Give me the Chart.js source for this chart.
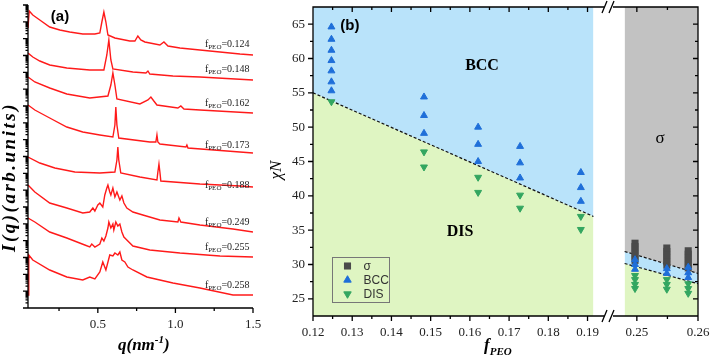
<!DOCTYPE html>
<html>
<head>
<meta charset="utf-8">
<title>SAXS profiles and phase diagram</title>
<script src="https://cdn.jsdelivr.net/npm/chart.js@4.4.1/dist/chart.umd.min.js"></script>
<style>
  html, body { margin: 0; padding: 0; background: #fff; overflow: hidden; }
  #wrap { position: relative; width: 710px; height: 359px; }
  #wrap canvas { position: absolute; top: 0; }
  #ca { left: 0; }
  #cb1 { left: 262px; }
  #cb2 { left: 600px; }
</style>
</head>
<body>
<div id="wrap">
  <canvas id="ca" width="265" height="359"></canvas>
  <canvas id="cb1" width="350" height="359"></canvas>
  <canvas id="cb2" width="110" height="359"></canvas>
</div>
<script>
// ---------- panel (a): SAXS profiles, intensity in arb. units (stacked) ----------
var fpeoLabels = ['0.124', '0.148', '0.162', '0.173', '0.188', '0.249', '0.255', '0.258'];

var q124 = [0.05, 0.058, 0.081, 0.126, 0.19, 0.255, 0.319, 0.403, 0.481, 0.513, 0.526, 0.539, 0.552, 0.565, 0.61, 0.706, 0.739, 0.758, 0.777, 0.803, 0.9, 0.926, 0.952, 1.029, 1.158, 1.287, 1.416, 1.5];
var i124 = [280, 297, 293, 288, 281, 278, 276, 274, 274, 275, 286, 296, 286, 273, 270, 267, 267, 272, 268, 266, 263, 266, 262, 260, 258, 256, 254, 253];
var q148 = [0.05, 0.081, 0.126, 0.19, 0.3, 0.448, 0.539, 0.558, 0.571, 0.584, 0.597, 0.726, 0.81, 0.823, 0.835, 0.984, 1.158, 1.5];
var i148 = [255, 251, 247, 243, 240, 238, 238, 253, 268, 248, 239, 236, 235, 237, 234, 232, 231, 228];
var q162 = [0.05, 0.094, 0.19, 0.3, 0.448, 0.565, 0.584, 0.597, 0.61, 0.623, 0.771, 0.823, 0.842, 0.861, 0.881, 1.016, 1.035, 1.055, 1.158, 1.5];
var i162 = [231, 226, 220, 214, 210, 212, 223, 235, 223, 209, 204, 208, 211, 207, 203, 200, 202, 199, 198, 195];
var q173 = [0.05, 0.094, 0.19, 0.3, 0.403, 0.513, 0.597, 0.61, 0.616, 0.623, 0.635, 0.835, 0.874, 0.881, 0.887, 0.9, 1.068, 1.074, 1.081, 1.5];
var i173 = [203, 198, 190, 181, 176, 173, 171, 183, 201, 183, 170, 166, 166, 173, 166, 164, 161, 163, 160, 155];
var q188 = [0.05, 0.126, 0.223, 0.352, 0.513, 0.61, 0.623, 0.629, 0.635, 0.648, 0.771, 0.881, 0.887, 0.894, 0.9, 0.906, 1.158, 1.416, 1.5];
var i188 = [151, 145, 140, 136, 135, 136, 148, 161, 148, 135, 131, 128, 136, 144, 136, 127, 124, 122, 121];
var q249 = [0.05, 0.094, 0.19, 0.3, 0.403, 0.448, 0.468, 0.481, 0.5, 0.513, 0.532, 0.545, 0.558, 0.565, 0.577, 0.584, 0.597, 0.61, 0.623, 0.642, 0.655, 0.668, 0.687, 0.726, 0.79, 0.9, 1.016, 1.023, 1.035, 1.158, 1.371, 1.5];
var i249 = [123, 116, 105, 100, 95, 96, 100, 97, 103, 105, 101, 113, 120, 123, 116, 113, 120, 111, 116, 108, 112, 105, 100, 96, 93, 88, 86, 90, 86, 83, 79, 76];
var q255 = [0.05, 0.094, 0.19, 0.3, 0.416, 0.448, 0.461, 0.481, 0.513, 0.526, 0.539, 0.552, 0.565, 0.571, 0.584, 0.597, 0.603, 0.616, 0.629, 0.642, 0.655, 0.668, 0.687, 0.726, 0.835, 1.029, 1.287, 1.5];
var i255 = [90, 86, 76, 70, 63, 61, 64, 61, 64, 70, 67, 72, 80, 86, 80, 84, 78, 86, 82, 84, 76, 71, 68, 62, 58, 55, 52, 51];
var q258 = [0.05, 0.055, 0.081, 0.19, 0.3, 0.403, 0.448, 0.481, 0.513, 0.532, 0.552, 0.577, 0.597, 0.61, 0.629, 0.642, 0.655, 0.674, 0.694, 0.726, 0.816, 0.984, 1.158, 1.371, 1.5];
var i258 = [13, 53, 48, 38, 31, 28, 31, 29, 36, 46, 38, 53, 52, 55, 53, 56, 48, 46, 41, 38, 31, 25, 20, 13, 13];

var curveQ = [q124, q148, q162, q173, q188, q249, q255, q258];
var curveI = [i124, i148, i162, i173, i188, i249, i255, i258];
var labelLevel = [264, 239, 205, 163, 123, 86, 61, 23];   // where each f_PEO label sits
var aTicksX = [0.5, 1.0, 1.5];

// ---------- panel (b): phase diagram chi*N vs f_PEO ----------
var bccF   = [0.1247, 0.1247, 0.1247, 0.1247, 0.1247, 0.1247, 0.1247, 0.1483, 0.1483, 0.1483, 0.1621, 0.1621, 0.1621, 0.1728, 0.1728, 0.1728, 0.1883, 0.1883, 0.1883, 0.2497, 0.2497, 0.2497, 0.2549, 0.2549, 0.2584, 0.2584, 0.2584];
var bccChi = [64.6, 62.8, 61.2, 59.7, 58.2, 56.6, 55.3, 54.4, 51.7, 49.1, 50.0, 47.5, 45.0, 47.2, 44.8, 42.6, 43.4, 41.2, 39.2, 30.7, 30.0, 29.3, 29.4, 28.7, 29.6, 28.8, 28.1];
var disF   = [0.1247, 0.1483, 0.1483, 0.1621, 0.1621, 0.1728, 0.1728, 0.1883, 0.1883, 0.2497, 0.2497, 0.2497, 0.2497, 0.2549, 0.2549, 0.2549, 0.2584, 0.2584, 0.2584];
var disChi = [53.7, 46.4, 44.2, 42.7, 40.5, 40.1, 38.2, 37.0, 35.1, 28.4, 27.8, 27.1, 26.5, 27.8, 27.1, 26.4, 27.2, 26.5, 25.8];
var sigmaF   = [0.2497, 0.2497, 0.2497, 0.2497, 0.2497, 0.2497, 0.2549, 0.2549, 0.2549, 0.2549, 0.2549, 0.2549, 0.2584, 0.2584, 0.2584, 0.2584, 0.2584, 0.2584];
var sigmaChi = [33.1, 32.6, 32.1, 31.6, 31.1, 30.6, 32.4, 31.9, 31.4, 30.9, 30.4, 29.9, 32.0, 31.5, 31.0, 30.5, 30.0, 29.5];

// phase boundaries
var odtF = [0.12, 0.1915];        var odtChi = [55, 37];
var sigUpF = [0.248, 0.26];       var sigUpChi = [31.9, 28.7];
var sigLoF = [0.248, 0.26];       var sigLoChi = [30.15, 27.2];

var bTicksX = [0.12, 0.13, 0.14, 0.15, 0.16, 0.17, 0.18, 0.19];
var bTicksX2 = [0.25, 0.26];
var bTicksY = [25, 30, 35, 40, 45, 50, 55, 60, 65];
var legendLabels = ['σ', 'BCC', 'DIS'];

var SERIF = '"Liberation Serif", "Times New Roman", serif';
var SANS = '"Liberation Sans", Arial, sans-serif';
var BLUE_BG = '#b9e3fa', GREEN_BG = '#dff5c2', GRAY_BG = '#c2c2c2';
var BCC_C = '#1f6fd9', DIS_C = '#33a660', SIG_C = '#4b4b4b';

function xy(xs, ys) { return xs.map(function (x, i) { return { x: x, y: ys[i] }; }); }
function fixBox(w, h) {
  return function (s) {
    if (w !== null) s.width = w;
    if (h !== null) s.height = h;
    s.paddingTop = s.paddingBottom = s.paddingLeft = s.paddingRight = 0;
  };
}
function setTicks(list) { return function (s) { s.ticks = list.map(function (v) { return { value: v }; }); }; }
function sub(ctx, x, y, parts) {
  // parts: [text, font, dy]
  parts.forEach(function (p) { ctx.font = p[1]; ctx.fillText(p[0], x, y + (p[2] || 0)); x += ctx.measureText(p[0]).width; });
}

// ---------------- panel (a) ----------------
var panelA = {
  id: 'panelA',
  afterDraw: function (chart) {
    var ctx = chart.ctx, a = chart.chartArea, xs = chart.scales.x, ys = chart.scales.y;
    ctx.save();
    ctx.strokeStyle = '#000'; ctx.lineWidth = 1.3;
    ctx.beginPath();
    ctx.moveTo(a.left, a.top); ctx.lineTo(a.left, a.bottom); ctx.lineTo(a.right, a.bottom);
    var dec = (a.bottom - a.top) / 18;
    for (var d = 0; d <= 18; d++) {
      var y0 = a.bottom - d * dec;
      ctx.moveTo(a.left, y0); ctx.lineTo(a.left - 5, y0);
      if (d < 18) for (var k = 2; k < 10; k++) {
        var yk = y0 - Math.log10(k) * dec;
        ctx.moveTo(a.left, yk); ctx.lineTo(a.left - 2.5, yk);
      }
    }
    for (var j = 1; j <= 6; j++) {
      var px = xs.getPixelForValue(j * 0.25);
      ctx.moveTo(px, a.bottom); ctx.lineTo(px, a.bottom + (j % 2 === 0 ? 5 : 3));
    }
    ctx.stroke();

    ctx.fillStyle = '#222'; ctx.textBaseline = 'middle'; ctx.textAlign = 'left';
    var lx = xs.getPixelForValue(1.19);
    fpeoLabels.forEach(function (t, i) {
      sub(ctx, lx, ys.getPixelForValue(labelLevel[i]), [['f', '10px ' + SERIF], ['PEO', '7px ' + SERIF, 3], ['=' + t, '10px ' + SERIF]]);
    });

    ctx.fillStyle = '#000';
    ctx.font = 'bold 15px ' + SANS; ctx.textAlign = 'center';
    ctx.fillText('(a)', 60, 17);

    ctx.textAlign = 'left'; ctx.textBaseline = 'alphabetic';
    sub(ctx, 118, 350, [['q(nm', 'bold italic 17px ' + SERIF], ['-1', 'bold italic 11px ' + SERIF, -7], [')', 'bold italic 17px ' + SERIF]]);

    ctx.translate(15, 177); ctx.rotate(-Math.PI / 2);
    ctx.font = 'bold italic 19px ' + SERIF; ctx.textAlign = 'center';
    ctx.letterSpacing = '2.5px';
    ctx.fillText('I(q)(arb.units)', 0, 0);
    ctx.restore();
  }
};

new Chart(document.getElementById('ca'), {
  type: 'line',
  data: {
    datasets: curveQ.map(function (qs, i) {
      return { data: xy(qs, curveI[i]), borderColor: '#ff1a1a', borderWidth: 1.4, pointRadius: 0, tension: 0, fill: false };
    })
  },
  options: {
    animation: false, responsive: false, events: [],
    layout: { padding: { left: 0, right: 12, top: 5, bottom: 0 } },
    plugins: { legend: { display: false }, tooltip: { enabled: false } },
    scales: {
      x: {
        type: 'linear', min: 0.05, max: 1.5,
        afterBuildTicks: setTicks(aTicksX), afterFit: fixBox(null, 51),
        grid: { display: false, drawTicks: false }, border: { display: false },
        ticks: { padding: 9, color: '#222', font: { family: SERIF, size: 13 }, callback: function (v) { return v.toFixed(1); } }
      },
      y: {
        type: 'linear', min: 0, max: 303, afterFit: fixBox(28, null),
        grid: { display: false, drawTicks: false }, border: { display: false }, ticks: { display: false }
      }
    }
  },
  plugins: [panelA]
});

// ---------------- panel (b), left part ----------------
function markerSets() {
  return [
    { data: xy(sigmaF, sigmaChi), showLine: false, pointStyle: 'rect', pointRadius: 5, pointBackgroundColor: SIG_C, pointBorderWidth: 0, order: 3 },
    { data: xy(bccF, bccChi), showLine: false, pointStyle: 'triangle', pointRadius: 4, pointBackgroundColor: BCC_C, pointBorderColor: BCC_C, pointBorderWidth: 1, order: 2 },
    { data: xy(disF, disChi), showLine: false, pointStyle: 'triangle', pointRotation: 180, pointRadius: 4, pointBackgroundColor: DIS_C, pointBorderColor: DIS_C, pointBorderWidth: 1, order: 1 }
  ];
}

function frameTicks(ctx, xs, ys, a, fFrom, fTo, yAt, yOut) {
  for (var f = fFrom; f <= fTo + 1e-9; f += 0.005) {
    var px = xs.getPixelForValue(f);
    var major = Math.abs(f * 100 - Math.round(f * 100)) < 1e-6;
    var L = major ? 5 : 3;
    ctx.moveTo(px, a.bottom); ctx.lineTo(px, a.bottom + L);
    ctx.moveTo(px, a.top); ctx.lineTo(px, a.top + L);
  }
  for (var v = 25; v <= 65; v += 2.5) {
    var py = ys.getPixelForValue(v), Ly = v % 5 === 0 ? 5 : 3;
    ctx.moveTo(yAt, py); ctx.lineTo(yAt + yOut * Ly, py);
  }
}

var panelB1 = {
  id: 'panelB1',
  afterDraw: function (chart) {
    var ctx = chart.ctx, a = chart.chartArea, xs = chart.scales.x, ys = chart.scales.y;
    ctx.save();
    ctx.strokeStyle = '#000'; ctx.lineWidth = 1.3;
    ctx.beginPath();
    ctx.moveTo(a.right, a.top); ctx.lineTo(a.left, a.top); ctx.lineTo(a.left, a.bottom); ctx.lineTo(a.right, a.bottom);
    frameTicks(ctx, xs, ys, a, 0.12, 0.19, a.left, -1);
    ctx.stroke();

    ctx.fillStyle = '#000'; ctx.textAlign = 'center'; ctx.textBaseline = 'middle';
    ctx.font = 'bold 15px ' + SANS;
    ctx.fillText('(b)', xs.getPixelForValue(0.1294), ys.getPixelForValue(64.7));
    ctx.font = 'bold 16px ' + SERIF;
    ctx.fillText('BCC', xs.getPixelForValue(0.1631), ys.getPixelForValue(59.0));
    ctx.fillText('DIS', xs.getPixelForValue(0.1575), ys.getPixelForValue(34.8));

    // legend
    var lx = 70.5, ly = 257.5;
    ctx.strokeStyle = '#777'; ctx.lineWidth = 1;
    ctx.strokeRect(lx, ly, 57, 45);
    var styles = [
      { pointStyle: 'rect', rotation: 0, radius: 5, borderWidth: 0, c: SIG_C },
      { pointStyle: 'triangle', rotation: 0, radius: 4.3, borderWidth: 1, c: BCC_C },
      { pointStyle: 'triangle', rotation: 180, radius: 4.3, borderWidth: 1, c: DIS_C }
    ];
    ctx.font = '12px ' + SANS; ctx.textAlign = 'left';
    legendLabels.forEach(function (t, i) {
      var y = 266 + i * 14;
      ctx.fillStyle = styles[i].c; ctx.strokeStyle = styles[i].c;
      Chart.helpers.drawPoint(ctx, styles[i], lx + 15, y);
      ctx.fillStyle = '#333';
      ctx.fillText(t, lx + 31, y + 1);
    });

    // axis titles
    ctx.fillStyle = '#000'; ctx.textBaseline = 'alphabetic';
    sub(ctx, 222, 350, [['f', 'bold italic 17px ' + SERIF], ['PEO', 'bold italic 11px ' + SERIF, 5]]);
    ctx.translate(19, 170); ctx.rotate(-Math.PI / 2);
    ctx.font = 'italic 17px ' + SERIF; ctx.textAlign = 'center';
    ctx.fillText('χN', 0, 0);
    ctx.restore();
  }
};

new Chart(document.getElementById('cb1'), {
  type: 'line',
  data: {
    datasets: [
      { data: xy(odtF, odtChi), borderColor: '#111', borderWidth: 1.2, borderDash: [3, 2], pointRadius: 0, fill: 'end', backgroundColor: BLUE_BG, order: 10 },
      { data: xy(odtF, odtChi), borderWidth: 0, pointRadius: 0, fill: 'start', backgroundColor: GREEN_BG, order: 11 }
    ].concat(markerSets())
  },
  options: {
    animation: false, responsive: false, events: [],
    layout: { padding: { left: 0, right: 8, top: 7, bottom: 0 } },
    plugins: { legend: { display: false }, tooltip: { enabled: false } },
    scales: {
      x: {
        type: 'linear', min: 0.12, max: 0.1942,
        afterBuildTicks: setTicks(bTicksX), afterFit: fixBox(null, 43),
        grid: { display: false, drawTicks: false }, border: { display: false },
        ticks: { padding: 9, color: '#222', font: { family: SERIF, size: 13 }, callback: function (v) { return v.toFixed(2); } }
      },
      y: {
        type: 'linear', min: 22.5, max: 67.5,
        afterBuildTicks: setTicks(bTicksY), afterFit: fixBox(51, null),
        grid: { display: false, drawTicks: false }, border: { display: false },
        ticks: { padding: 8, color: '#222', font: { family: SERIF, size: 13 } }
      }
    }
  },
  plugins: [panelB1]
});

// ---------------- panel (b), right part after the axis break ----------------
var panelB2 = {
  id: 'panelB2',
  afterDraw: function (chart) {
    var ctx = chart.ctx, a = chart.chartArea, xs = chart.scales.x, ys = chart.scales.y;
    ctx.save();
    ctx.strokeStyle = '#000'; ctx.lineWidth = 1.3;
    ctx.beginPath();
    ctx.moveTo(a.left, a.top); ctx.lineTo(a.right, a.top); ctx.lineTo(a.right, a.bottom); ctx.lineTo(a.left, a.bottom);
    frameTicks(ctx, xs, ys, a, 0.25, 0.26, a.right, -1);
    // axis break marks
    [a.top, a.bottom].forEach(function (y) {
      ctx.moveTo(2, y + 6); ctx.lineTo(7, y - 6);
      ctx.moveTo(9, y + 6); ctx.lineTo(14, y - 6);
    });
    ctx.stroke();

    ctx.fillStyle = '#000'; ctx.textAlign = 'center'; ctx.textBaseline = 'middle';
    ctx.font = '17px ' + SERIF;
    ctx.fillText('σ', xs.getPixelForValue(0.2538), ys.getPixelForValue(48.4));
    ctx.restore();
  }
};

new Chart(document.getElementById('cb2'), {
  type: 'line',
  data: {
    datasets: [
      { data: xy(sigUpF, sigUpChi), borderColor: '#111', borderWidth: 1.2, borderDash: [3, 2], pointRadius: 0, fill: 'end', backgroundColor: GRAY_BG, order: 10 },
      { data: xy(sigLoF, sigLoChi), borderColor: '#111', borderWidth: 1.2, borderDash: [3, 2], pointRadius: 0, fill: 0, backgroundColor: BLUE_BG, order: 11 },
      { data: xy(sigLoF, sigLoChi), borderWidth: 0, pointRadius: 0, fill: 'start', backgroundColor: GREEN_BG, order: 12 }
    ].concat(markerSets())
  },
  options: {
    animation: false, responsive: false, events: [],
    layout: { padding: { left: 13, right: 12, top: 7, bottom: 0 } },
    plugins: { legend: { display: false }, tooltip: { enabled: false } },
    scales: {
      x: {
        type: 'linear', min: 0.2461, max: 0.26,
        afterBuildTicks: setTicks(bTicksX2), afterFit: fixBox(null, 43),
        grid: { display: false, drawTicks: false }, border: { display: false },
        ticks: { padding: 9, color: '#222', font: { family: SERIF, size: 13 }, callback: function (v) { return v.toFixed(2); } }
      },
      y: { type: 'linear', min: 22.5, max: 67.5, display: false }
    }
  },
  plugins: [panelB2]
});
</script>
</body>
</html>
